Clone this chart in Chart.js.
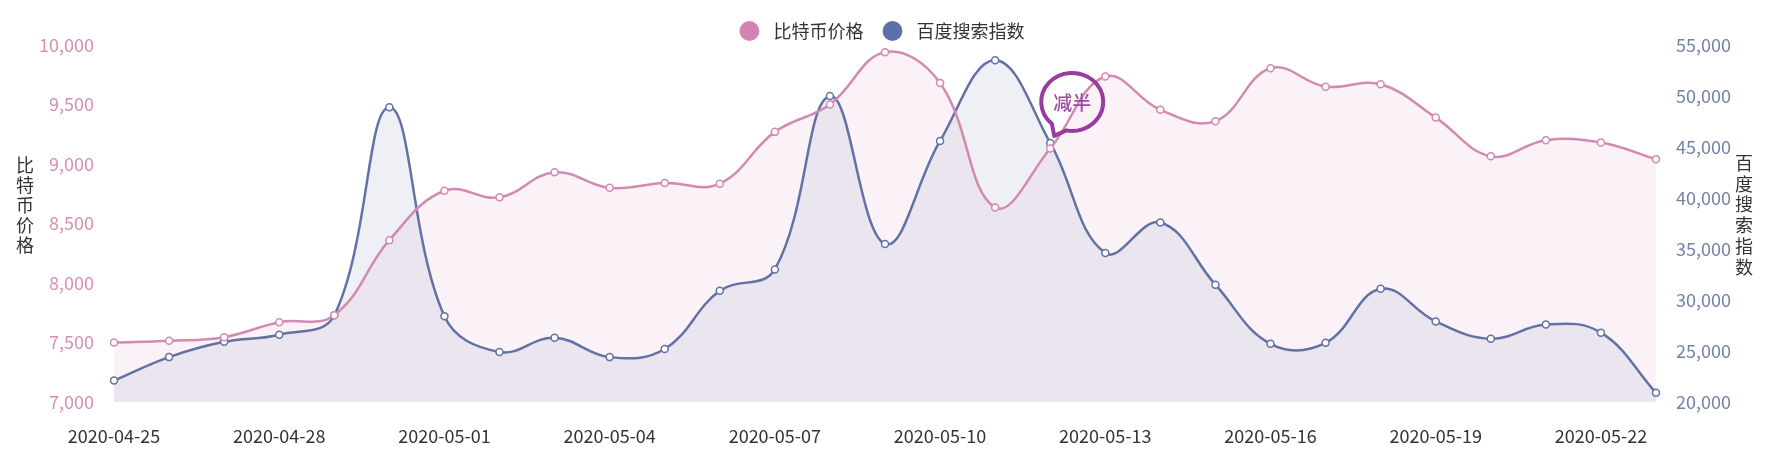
<!DOCTYPE html>
<html>
<head>
<meta charset="utf-8">
<script src="https://cdn.jsdelivr.net/npm/chart.js@4/dist/chart.umd.min.js"></script>
<style>
  body { margin: 0; background: #fff; }
  #wrap { width: 1767px; height: 449px; position: relative; }
</style>
</head>
<body>
<div id="wrap"><canvas id="chart"></canvas></div>
<script>
const dates = ['2020-04-25', '2020-04-26', '2020-04-27', '2020-04-28', '2020-04-29', '2020-04-30',
  '2020-05-01', '2020-05-02', '2020-05-03', '2020-05-04', '2020-05-05', '2020-05-06', '2020-05-07',
  '2020-05-08', '2020-05-09', '2020-05-10', '2020-05-11', '2020-05-12', '2020-05-13', '2020-05-14',
  '2020-05-15', '2020-05-16', '2020-05-17', '2020-05-18', '2020-05-19', '2020-05-20', '2020-05-21',
  '2020-05-22', '2020-05-23'];
const btcPrice = [7500, 7515, 7545, 7670, 7730, 8360, 8775, 8720, 8930, 8800, 8840, 8835, 9270,
  9500, 9940, 9680, 8635, 9130, 9735, 9455, 9360, 9805, 9650, 9670, 9390, 9065, 9200, 9180, 9040];
const baiduIndex = [22100, 24400, 25900, 26600, 28500, 48900, 28400, 24900, 26300, 24400, 25200,
  30900, 33000, 50000, 35500, 45600, 53500, 45400, 34600, 37600, 31500, 25700, 25800, 31100, 27900,
  26200, 27600, 26800, 20900];
const priceTicks = [7000, 7500, 8000, 8500, 9000, 9500, 10000];
const indexTicks = [20000, 25000, 30000, 35000, 40000, 45000, 50000, 55000];
const halvingLabel = '减半';
const halvingIndex = 17;

const PINK = '#d38ab0';
const BLUE = '#6272a4';
const FONT = '"Noto Sans CJK SC", "Noto Sans", sans-serif';

// vertical (stacked) axis titles like the original
const axisTitles = {
  id: 'axisTitles',
  afterDraw(chart) {
    const ctx = chart.ctx;
    const top = chart.chartArea.top;
    ctx.save();
    ctx.font = '18px ' + FONT;
    ctx.fillStyle = '#333';
    ctx.textAlign = 'center';
    ctx.textBaseline = 'middle';
    [...'比特币价格'].forEach((c, i) => ctx.fillText(c, 25, top + 120 + i * 20));
    [...'百度搜索指数'].forEach((c, i) => ctx.fillText(c, 1744, top + 118 + i * 20.8));
    ctx.restore();
  }
};

// speech bubble marking the halving day
const halvingBubble = {
  id: 'halvingBubble',
  afterDatasetsDraw(chart) {
    const pt = chart.getDatasetMeta(1).data[halvingIndex];
    if (!pt) return;
    const ctx = chart.ctx;
    const cx = pt.x + 22, cy = pt.y - 41;
    const rx = 31, ry = 29;
    const a1 = 131 * Math.PI / 180, a2 = 101 * Math.PI / 180;
    ctx.save();
    ctx.beginPath();
    ctx.ellipse(cx, cy, rx, ry, 0, a1, a2 + Math.PI * 2);
    ctx.lineTo(pt.x + 4, pt.y - 7);
    ctx.closePath();
    ctx.lineWidth = 4;
    ctx.lineJoin = 'round';
    ctx.strokeStyle = '#973d9e';
    ctx.stroke();
    ctx.font = '500 19px ' + FONT;
    ctx.fillStyle = '#a04aa7';
    ctx.textAlign = 'center';
    ctx.textBaseline = 'middle';
    ctx.fillText(halvingLabel, cx, cy + 1);
    ctx.restore();
  }
};

const legendHeight = {
  id: 'legendHeight',
  beforeInit(chart) {
    const fit = chart.legend.fit;
    chart.legend.fit = function () {
      fit.bind(chart.legend)();
      this.height = 45;
    };
  }
};

new Chart(document.getElementById('chart'), {
  type: 'line',
  data: {
    labels: dates,
    datasets: [
      {
        label: '比特币价格',
        data: btcPrice,
        yAxisID: 'yPrice',
        borderColor: PINK,
        backgroundColor: 'rgba(213, 135, 178, 0.11)',
        borderWidth: 2.5,
        fill: 'start',
        tension: 0.4,
        pointRadius: 3.5,
        pointBorderWidth: 1.5,
        pointBackgroundColor: '#fff',
        pointBorderColor: PINK
      },
      {
        label: '百度搜索指数',
        data: baiduIndex,
        yAxisID: 'yIndex',
        borderColor: BLUE,
        backgroundColor: 'rgba(98, 114, 164, 0.11)',
        borderWidth: 2.5,
        fill: 'start',
        tension: 0.4,
        pointRadius: 3.5,
        pointBorderWidth: 1.5,
        pointBackgroundColor: '#fff',
        pointBorderColor: BLUE
      }
    ]
  },
  options: {
    responsive: true,
    maintainAspectRatio: false,
    animation: false,
    layout: { padding: 0 },
    plugins: {
      filler: { drawTime: 'beforeDatasetsDraw' },
      tooltip: { enabled: false },
      legend: {
        position: 'top',
        labels: {
          usePointStyle: true,
          pointStyle: 'circle',
          boxHeight: 14,
          boxWidth: 14,
          padding: 22,
          color: '#333',
          font: { size: 18, family: FONT },
          generateLabels(chart) {
            const items = Chart.defaults.plugins.legend.labels.generateLabels(chart);
            const fills = ['#d582b0', '#5b6fa8'];
            items.forEach((it, i) => {
              it.fillStyle = fills[i];
              it.strokeStyle = fills[i];
              it.lineWidth = 0;
              it.text = '  ' + it.text;
            });
            return items;
          }
        }
      }
    },
    scales: {
      x: {
        grid: { display: false },
        border: { display: false },
        offset: false,
        ticks: {
          autoSkip: false,
          maxRotation: 0,
          padding: 15,
          color: '#333',
          font: { size: 18, family: FONT },
          callback(v, i) { return i % 3 === 0 ? dates[i] : ''; }
        },
        afterFit(s) { s.height = 47; }
      },
      yPrice: {
        position: 'left',
        min: priceTicks[0],
        max: priceTicks[priceTicks.length - 1],
        grid: { display: false },
        border: { display: false },
        afterBuildTicks(s) { s.ticks = priceTicks.map(v => ({ value: v })); },
        ticks: {
          padding: 12,
          color: '#d68fb6',
          font: { size: 18, family: FONT },
          callback(v) { return v.toLocaleString('en-US'); }
        },
        afterFit(s) { s.width = 114; }
      },
      yIndex: {
        position: 'right',
        min: indexTicks[0],
        max: indexTicks[indexTicks.length - 1],
        grid: { display: false },
        border: { display: false },
        afterBuildTicks(s) { s.ticks = indexTicks.map(v => ({ value: v })); },
        ticks: {
          padding: 12,
          color: '#7383a8',
          font: { size: 18, family: FONT },
          callback(v) { return v.toLocaleString('en-US'); }
        },
        afterFit(s) { s.width = 111; }
      }
    }
  },
  plugins: [legendHeight, axisTitles, halvingBubble]
});
</script>
</body>
</html>
